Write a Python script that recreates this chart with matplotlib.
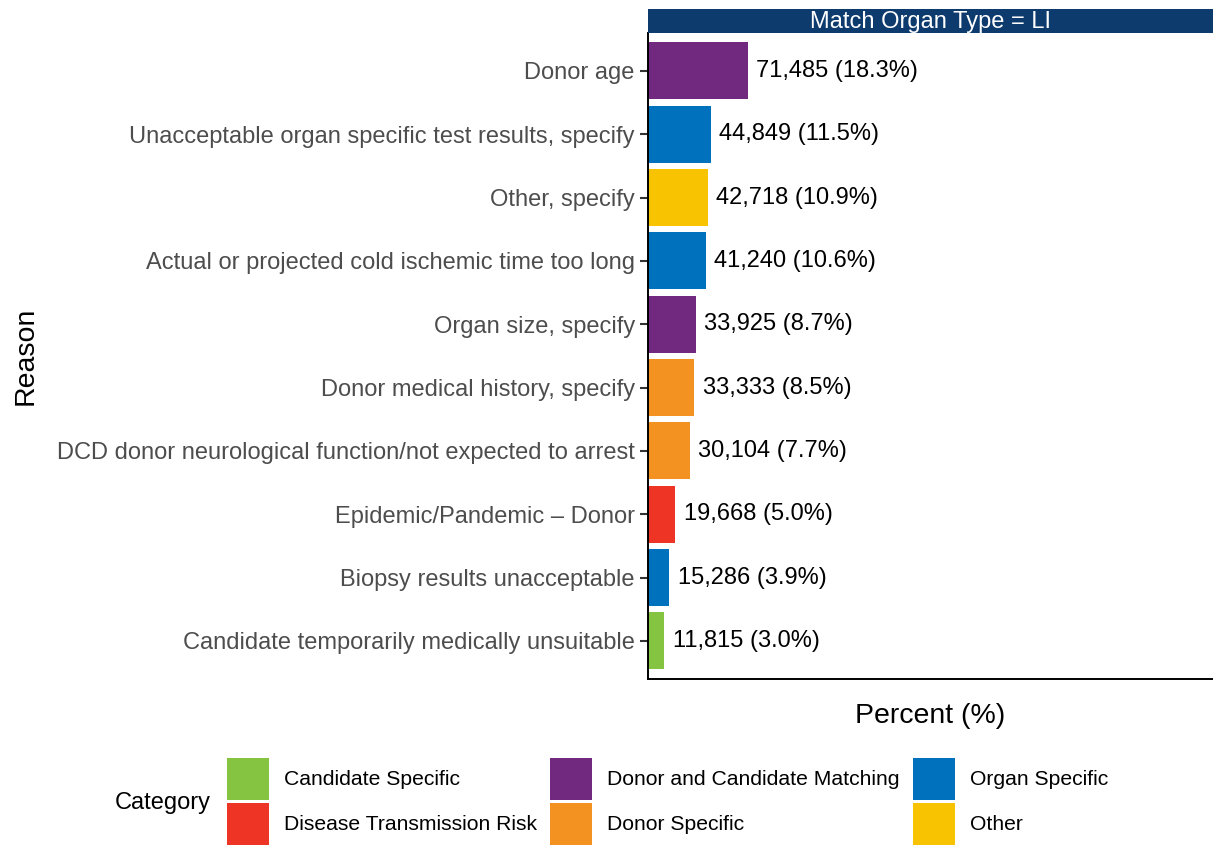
import matplotlib
matplotlib.use("Agg")
import matplotlib.pyplot as plt
from matplotlib.patches import Patch

plt.rcParams['font.family'] = ['Liberation Sans', 'DejaVu Sans']

# data, top to bottom as drawn
reasons = [
    "Donor age",
    "Unacceptable organ specific test results, specify",
    "Other, specify",
    "Actual or projected cold ischemic time too long",
    "Organ size, specify",
    "Donor medical history, specify",
    "DCD donor neurological function/not expected to arrest",
    "Epidemic/Pandemic \u2013 Donor",
    "Biopsy results unacceptable",
    "Candidate temporarily medically unsuitable",
]
counts = [71485, 44849, 42718, 41240, 33925, 33333, 30104, 19668, 15286, 11815]
percents = [18.3, 11.5, 10.9, 10.6, 8.7, 8.5, 7.7, 5.0, 3.9, 3.0]
categories = [
    "Donor and Candidate Matching",
    "Organ Specific",
    "Other",
    "Organ Specific",
    "Donor and Candidate Matching",
    "Donor Specific",
    "Donor Specific",
    "Disease Transmission Risk",
    "Organ Specific",
    "Candidate Specific",
]
legend_order = [
    "Candidate Specific",
    "Disease Transmission Risk",
    "Donor and Candidate Matching",
    "Donor Specific",
    "Organ Specific",
    "Other",
]
cat_colors = {
    "Candidate Specific": "#84C441",
    "Disease Transmission Risk": "#EE3424",
    "Donor and Candidate Matching": "#70297F",
    "Donor Specific": "#F39121",
    "Organ Specific": "#0071BC",
    "Other": "#F8C300",
}

fig = plt.figure(figsize=(12.13, 8.46), dpi=100)
ax = fig.add_axes([0.5342, 0.1974, 0.4658, 0.7636])

ypos = list(range(len(reasons)))
ax.barh(ypos, percents, height=0.9, color=[cat_colors[c] for c in categories])
for y, p, n in zip(ypos, percents, counts):
    ax.annotate(f"{n:,} ({p:.1f}%)", (p, y), xytext=(6, 0), textcoords="offset points",
                va="center", ha="left", fontsize=17, color="black")

ax.set_xlim(0, 103.4)
ax.set_ylim(len(reasons) - 0.4, -0.6)
ax.set_yticks(ypos)
ax.set_yticklabels(reasons, fontsize=17, color="#4D4D4D")
ax.set_xticks([])
ax.tick_params(axis="y", length=6, width=1.5, color="#333333", pad=3.5)
for s in ["top", "right"]:
    ax.spines[s].set_visible(False)
for s in ["left", "bottom"]:
    ax.spines[s].set_linewidth(1.4)
    ax.spines[s].set_color("black")
ax.set_xlabel("Percent (%)", fontsize=20.5, labelpad=17)
ax.set_ylabel("Reason", fontsize=20.5)
ax.yaxis.set_label_coords(-1.078, 0.5)

# facet strip
strip = fig.add_axes([0.5342, 0.961, 0.4658, 0.0284])
strip.set_facecolor("#0D3B6E")
strip.set_xticks([])
strip.set_yticks([])
for s in strip.spines.values():
    s.set_visible(False)
strip.text(0.5, 0.47, "Match Organ Type = LI", color="white", fontsize=17,
           ha="center", va="center", transform=strip.transAxes)

# legend
handles = [Patch(facecolor=cat_colors[c], edgecolor="none") for c in legend_order]
fig.legend(handles, legend_order, ncol=3, loc="upper left",
           bbox_to_anchor=(0.1871, 0.1045), frameon=False, fontsize=15.2,
           handlelength=1.99, handleheight=2.70, handletextpad=0.71,
           columnspacing=0.64, labelspacing=0.14, borderpad=0, borderaxespad=0)
fig.text(0.1345, 0.051, "Category", fontsize=17, ha="center", va="center")

fig.savefig("out.png", dpi=100)
